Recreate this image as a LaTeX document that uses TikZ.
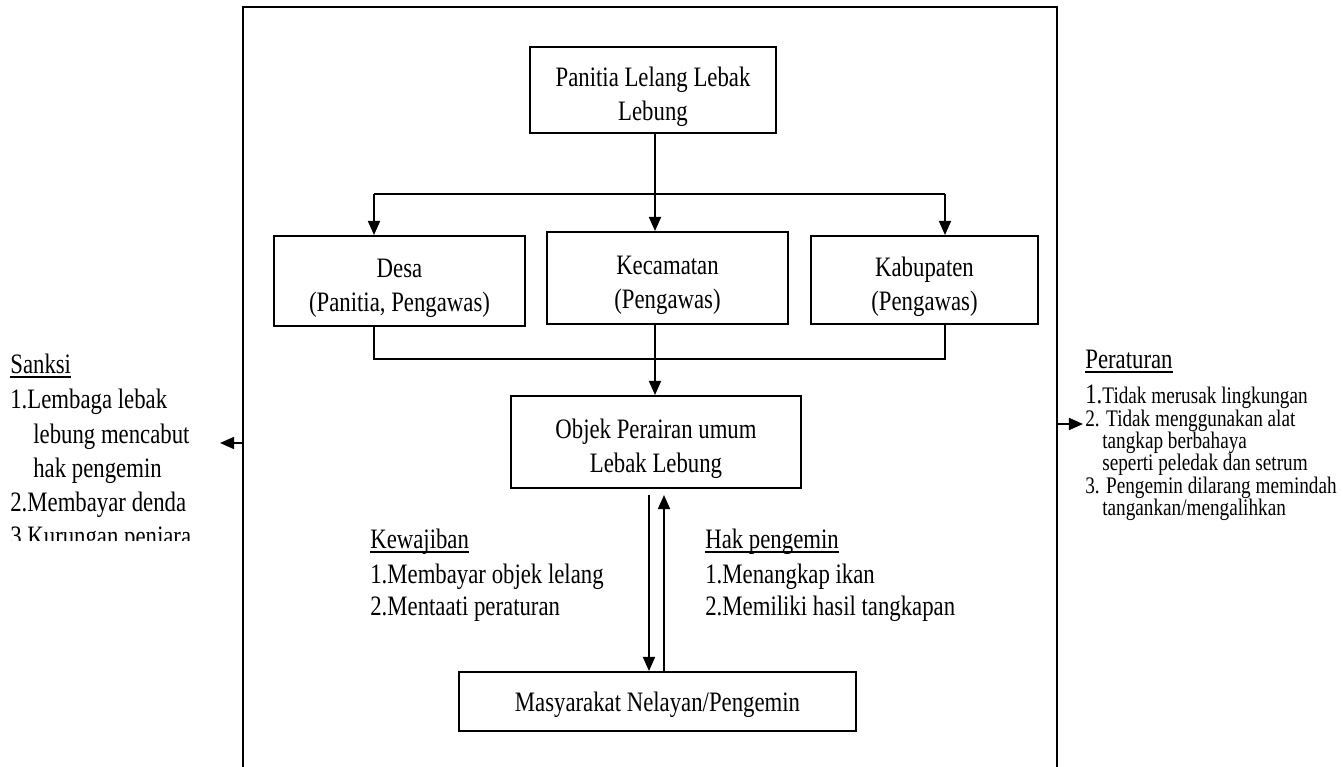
\documentclass[tikz,border=0pt]{standalone}
\usepackage{fontspec}
\setmainfont{Liberation Serif}[FakeStretch=0.81]
\usetikzlibrary{arrows.meta}
\newlength\px
\setlength\px{0.02cm}
\newcommand\lowstrut{\rule{0pt}{18.8pt}}

\begin{document}
\begin{tikzpicture}[x=0.02cm,y=-0.02cm,
	boxnode/.style={draw,line width=1.1pt,align=center,inner sep=0pt,font=\fontsize{16}{19.8}\selectfont},
	textnode/.style={inner sep=0pt,anchor=base west,font=\fontsize{16}{19.8}\selectfont},
	smallnode/.style={textnode,font=\fontsize{13.5}{16}\selectfont},
	conn/.style={line width=1.1pt},
	arrconn/.style={conn,-{Triangle[length=8pt,width=6.8pt]}}]
			\useasboundingbox (0,0) rectangle (1343,767);
			\draw[conn] (243,790) |- (1057,7) -- (1057,790);

			\node[boxnode,minimum width=246\px,minimum height=86\px]	(panitia)	at (653,90)		{\lowstrut Panitia Lelang Lebak\\Lebung};
			\node[boxnode,minimum width=251\px,minimum height=90\px]	(desa)		at (399.5,281)	{\lowstrut Desa\\(Panitia, Pengawas)};
			\node[boxnode,minimum width=241\px,minimum height=92\px]	(kec)		at (667.5,278)	{\lowstrut Kecamatan\\(Pengawas)};
			\node[boxnode,minimum width=227\px,minimum height=88\px]	(kab)		at (924.5,280)	{\lowstrut Kabupaten\\(Pengawas)};
			\node[boxnode,minimum width=290\px,minimum height=92\px]	(objek)		at (656,442)	{\lowstrut Objek Perairan umum\\Lebak Lebung};
			\node[boxnode,minimum width=397\px,minimum height=59\px]	(masy)		at (657.5,701.5)	{\rule{0pt}{15pt}Masyarakat Nelayan/Pengemin};

			\coordinate (cab)	at (655,194);
			\coordinate (cabL)	at (374,194);
			\coordinate (cabR)	at (945,194);
			\coordinate (gabL)	at (374,359);
			\coordinate (gabR)	at (945,359);
			\coordinate (kwT)	at (649,495);
			\coordinate (hkT)	at (664,495);

			\draw[arrconn] (panitia.south -| cab) -- (kec.north -| cab);
			\draw[conn] (cabL) -- (cabR);
			\draw[arrconn] (cabL) -- (desa.north -| cabL);
			\draw[arrconn] (cabR) -- (kab.north -| cabR);
			\draw[conn] (desa.south -| gabL) -- (gabL) -- (gabR) -- (kab.south -| gabR);
			\draw[arrconn] (kec.south -| cab) -- (objek.north -| cab);
			\draw[arrconn] (kwT) -- (masy.north -| kwT);
			\draw[arrconn] (masy.north -| hkT) -- (hkT);

			% kewajiban dan hak
			\node[textnode]	(kew)	at (370,548)	{Kewajiban};
			\node[textnode]	(kew1)	at (370,583)	{1.Membayar objek lelang};
			\node[textnode]	(kew2)	at (370,615)	{2.Mentaati peraturan};
			\node[textnode]	(hak)	at (705,548)	{Hak pengemin};
			\node[textnode]	(hak1)	at (705,583)	{1.Menangkap ikan};
			\node[textnode]	(hak2)	at (705,615)	{2.Memiliki hasil tangkapan};
			\draw[conn] ([yshift=-4\px]kew.base west) -- ([yshift=-4\px]kew.base east);
			\draw[conn] ([yshift=-4\px]hak.base west) -- ([yshift=-4\px]hak.base east);

			% sanksi
			\coordinate (sL0)	at (243,443);
			\coordinate (sL1)	at (220,443);
			\draw[arrconn] (sL0) -- (sL1);
			\begin{scope}
				\clip (0,0) rectangle (243,540);
				\node[textnode]	(sanksi)	at (10,373)	{Sanksi};
				\node[textnode]	(s1)		at (10,408)	{1.Lembaga lebak};
				\node[textnode]	(s2)		at (33,443)	{lebung mencabut};
				\node[textnode]	(s3)		at (33,477)	{hak pengemin};
				\node[textnode]	(s4)		at (10,511)	{2.Membayar denda};
				\node[textnode]	(s5)		at (10,545)	{3.Kurungan penjara};
			\end{scope}
			\draw[conn] ([yshift=-4\px]sanksi.base west) -- ([yshift=-4\px]sanksi.base east);

			% peraturan
			\coordinate (pR0)	at (1057,424);
			\coordinate (pR1)	at (1083,424);
			\draw[arrconn] (pR0) -- (pR1);
			\node[textnode]		(atur)	at (1085,368)	{Peraturan};
			\node[textnode]		(p1)	at (1085,403)	{1.{\fontsize{13.5}{16}\selectfont Tidak merusak lingkungan}};
			\node[smallnode]	(p2)	at (1085,426)	{2. Tidak menggunakan alat};
			\node[smallnode]	(p3)	at (1102,448)	{tangkap berbahaya};
			\node[smallnode]	(p4)	at (1102,470)	{seperti peledak dan setrum};
			\node[smallnode]	(p5)	at (1085,493)	{3. Pengemin dilarang memindah};
			\node[smallnode]	(p6)	at (1102,515)	{tangankan/mengalihkan};
			\draw[conn] ([yshift=-4\px]atur.base west) -- ([yshift=-4\px]atur.base east);
		\end{tikzpicture}
\end{document}
